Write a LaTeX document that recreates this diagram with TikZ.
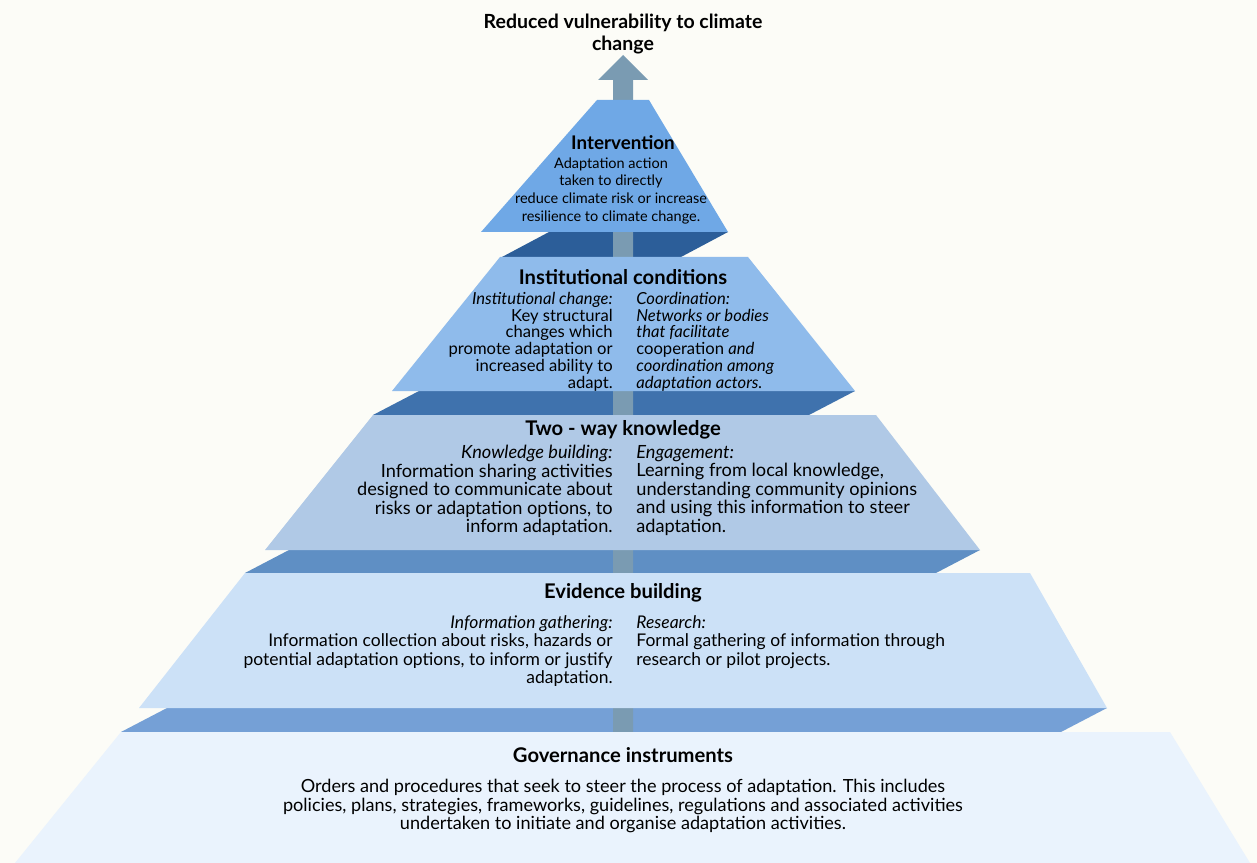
\documentclass[tikz,border=0pt]{standalone}
\usepackage{fontspec}
\setmainfont{Lato}
\definecolor{PaperWhite}{RGB}{252,252,247}
\definecolor{ArrowGrey}{RGB}{122,155,178}
\definecolor{IntFront}{RGB}{111,168,230}
\definecolor{IntLedge}{RGB}{44,94,153}
\definecolor{InstFront}{RGB}{143,187,235}
\definecolor{InstLedge}{RGB}{63,114,173}
\definecolor{TwoFront}{RGB}{176,201,230}
\definecolor{TwoLedge}{RGB}{95,143,196}
\definecolor{EviFront}{RGB}{204,225,247}
\definecolor{EviLedge}{RGB}{117,160,214}
\definecolor{GovFront}{RGB}{234,243,253}

\begin{document}
\begin{tikzpicture}[x=0.2mm, y=-0.2mm]
    \tikzstyle{ttl} = [inner sep=0, align=center, font=\bfseries\fontsize{11.1}{12}\selectfont]
    \tikzstyle{hd} = [inner sep=0, font=\bfseries\fontsize{11.5}{13}\selectfont]
    \tikzstyle{intbody} = [inner sep=0, anchor=north, align=center, font=\fontsize{8.25}{10.1}\selectfont]
    \tikzstyle{instbody} = [inner sep=0, font=\fontsize{9.45}{9.5}\selectfont]
    \tikzstyle{twobody} = [inner sep=0, font=\fontsize{10.35}{10.5}\selectfont]
    \tikzstyle{evibody} = [inner sep=0, font=\fontsize{9.95}{10.5}\selectfont]
    \tikzstyle{govbody} = [inner sep=0, anchor=north, align=center, font=\fontsize{10.3}{10.5}\selectfont]
    \tikzstyle{lcol} = [anchor=north east, align=right]
    \tikzstyle{rcol} = [anchor=north west, align=left]

    \fill[PaperWhite] (0,0) rectangle (1257,863);
    \useasboundingbox (0,0) rectangle (1257,863);

    \fill[IntLedge] (549,232) -- (728,232) -- (681,257) -- (502,257) -- cycle;
    \fill[InstLedge] (419,391) -- (855,391) -- (809,415) -- (373,415) -- cycle;
    \fill[TwoLedge] (289,550) -- (980,550) -- (936,573) -- (245,573) -- cycle;
    \fill[EviLedge] (167,708) -- (1107,708) -- (1061,732) -- (121,732) -- cycle;

    \fill[ArrowGrey] (613,732) -- (613,80) -- (598,80) -- (623,55) -- (648,80) -- (633,80) -- (633,732) -- cycle;

    \fill[IntFront] (597,100) -- (649,100) -- (728,232) -- (481,232) -- cycle;
    \fill[InstFront] (500,257) -- (748,257) -- (855,391) -- (392,391) -- cycle;
    \fill[TwoFront] (373,415) -- (876,415) -- (980,550) -- (265,550) -- cycle;
    \fill[EviFront] (245,573) -- (1030,573) -- (1107,708) -- (139,708) -- cycle;
    \fill[GovFront] (121,732) -- (1170,732) -- (1250,863) -- (15,863) -- cycle;

    \node[ttl] (goal) at (623,34) {Reduced vulnerability to climate\\change};

    \node[hd, font=\bfseries\fontsize{10.7}{12}\selectfont] (inth) at (623,143) {Intervention};
    \node[intbody] (intb) at (611,157) {Adaptation action\\taken to directly\\reduce climate risk or increase\\resilience to climate change.};

    \node[hd] (insth) at (623,277) {Institutional conditions};
    \node[instbody, lcol] (instl) at (613,292) {\textit{Institutional change:}\\Key structural\\changes which\\promote adaptation or\\increased ability to\\adapt.};
    \node[instbody, rcol] (instr) at (636,292) {\textit{Coordination:}\\\textit{Networks or bodies}\\\textit{that facilitate}\\cooperation \textit{and}\\\textit{coordination among}\\\textit{adaptation actors.}};

    \node[hd] (twoh) at (623,430) {Two - way knowledge};
    \node[twobody, lcol] (twol) at (613,445) {\textit{Knowledge building:}\\Information sharing activities\\designed to communicate about\\risks or adaptation options, to\\inform adaptation.};
    \node[twobody, rcol] (twor) at (636,445) {\textit{Engagement:}\\Learning from local knowledge,\\understanding community opinions\\and using this information to steer\\adaptation.};

    \node[hd] (evih) at (623,593) {Evidence building};
    \node[evibody, lcol] (evil) at (613,615) {\textit{Information gathering:}\\Information collection about risks, hazards or\\potential adaptation options, to inform or justify\\adaptation.};
    \node[evibody, rcol] (evir) at (636,615) {\textit{Research:}\\Formal gathering of information through\\research or pilot projects.};

    \node[hd] (govh) at (623,755) {Governance instruments};
    \node[govbody] (govb) at (623,779) {Orders and procedures that seek to steer the process of adaptation. This includes\\policies, plans, strategies, frameworks, guidelines, regulations and associated activities\\undertaken to initiate and organise adaptation activities.};
\end{tikzpicture}
\end{document}
